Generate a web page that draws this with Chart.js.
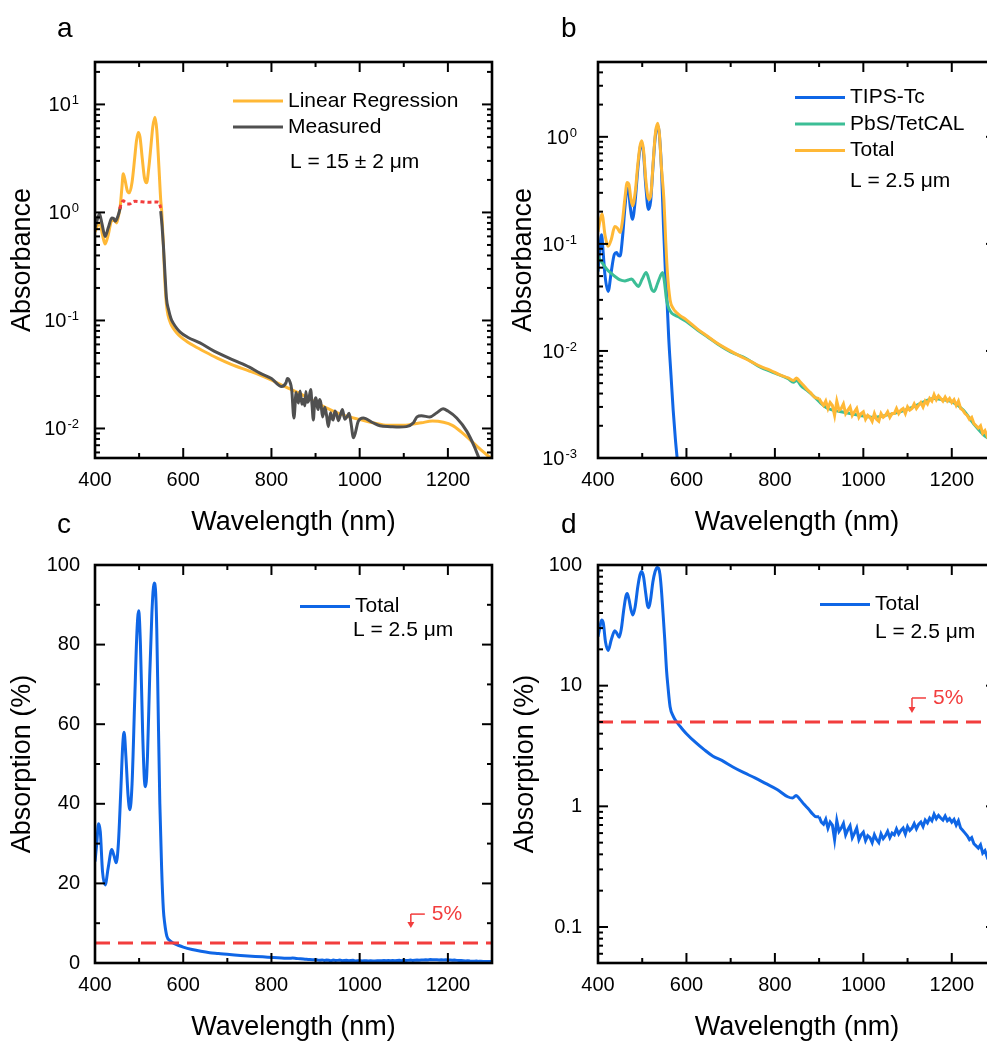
<!DOCTYPE html>
<html>
<head>
<meta charset="utf-8">
<script src="https://cdn.jsdelivr.net/npm/chart.js@4.4.1/dist/chart.umd.min.js"></script>
<style>
  html, body { margin: 0; padding: 0; width: 987px; height: 1041px; overflow: hidden; background: #fff; }
  canvas { position: absolute; }
</style>
</head>
<body>
<canvas id="panelA" width="500" height="545" style="left:0;top:0"></canvas>
<canvas id="panelB" width="510" height="545" style="left:500px;top:0"></canvas>
<canvas id="panelC" width="500" height="550" style="left:0;top:500px"></canvas>
<canvas id="panelD" width="510" height="550" style="left:500px;top:500px"></canvas>
<script>
'use strict'

// wavelength axis ticks (nm)
const wlTicks = [400, 600, 800, 1000, 1200];
const wlMinor = [500, 700, 900, 1100, 1300];

// (a) thick film: regression vs measurement
const regWl = [400, 406, 411, 417, 423, 430, 438, 444, 449, 453, 457, 461, 464, 468, 473, 478, 484, 490, 494, 498,
  502, 507, 512, 517, 522, 527, 531, 536, 540, 545, 549, 551, 555, 558, 562, 566, 571, 577, 585, 595,
  608, 625, 650, 676, 710, 750, 789, 830, 870, 903, 940, 970, 1001, 1030, 1054, 1080, 1110, 1140, 1165, 1190,
  1210, 1230, 1250, 1270, 1300];
const regAbs = [0.66, 0.76, 0.80, 0.62, 0.51, 0.62, 0.84, 0.84, 0.80, 0.92, 1.12, 1.7, 2.28, 2.0, 1.6, 1.52, 1.9, 3.2, 4.6, 5.5,
  5.0, 3.2, 2.1, 1.88, 2.6, 4.2, 6.2, 7.6, 5.8, 2.6, 1.3, 1.05, 0.5, 0.25, 0.14, 0.11, 0.095, 0.085, 0.077, 0.07,
  0.064, 0.058, 0.051, 0.045, 0.039, 0.034, 0.0294, 0.0245, 0.0205, 0.0172, 0.0145, 0.013, 0.0121, 0.0113, 0.0108, 0.0107, 0.0108, 0.0113, 0.0117, 0.0114,
  0.0107, 0.0093, 0.0079, 0.0066, 0.0052];

const measWl = [400, 404, 410, 416, 423, 430, 438, 442, 446, 450, 454, 458, 500, 549, 552, 555, 558, 562, 567, 572,
  577, 585, 593, 610, 638, 670, 714, 750, 774, 800, 823, 833, 836, 842, 846, 851, 856, 861, 865, 869,
  872, 876, 878, 881, 884, 889, 892, 895, 898, 901, 904, 906, 909, 912, 916, 921, 925, 929, 934, 937,
  940, 944, 948, 952, 955, 961, 966, 971, 976, 980, 986, 997, 1008,
  1030, 1046, 1070, 1090, 1106, 1122, 1130, 1140, 1159, 1175, 1189, 1200, 1220, 1243, 1260, 1273, 1285];
const measAbs = [0.72, 0.82, 0.97, 0.78, 0.60, 0.72, 0.89, 0.88, 0.83, 0.88, 0.98, 1.14, null, 1.03, 0.75, 0.5, 0.3, 0.16, 0.125, 0.105,
  0.095, 0.085, 0.078, 0.070, 0.062, 0.052, 0.043, 0.037, 0.0325, 0.029, 0.0245, 0.0265, 0.029, 0.027, 0.0228, 0.0125, 0.0215, 0.0172, 0.0222, 0.0168,
  0.0186, 0.0162, 0.022, 0.0175, 0.018, 0.023, 0.0165, 0.012, 0.0178, 0.0193, 0.0158, 0.015, 0.0185, 0.0172, 0.0128, 0.0157, 0.0132, 0.0104, 0.014, 0.0125,
  0.012, 0.0145, 0.0134, 0.0118, 0.0128, 0.015, 0.0122, 0.0128, 0.0138, 0.0115, 0.0082, 0.0117, 0.0125,
  0.0113, 0.0106, 0.0104, 0.0103, 0.0104, 0.0113, 0.0128, 0.0131, 0.0128, 0.014, 0.0152, 0.0145, 0.0125, 0.0094, 0.0068, 0.005, 0.0038];

// saturated part of the measurement
const satWl = [456, 460, 464, 468, 473, 479, 485, 491, 500, 510, 520, 530, 540, 545, 549];
const satAbs = [1.08, 1.22, 1.28, 1.25, 1.2, 1.2, 1.25, 1.27, 1.26, 1.25, 1.24, 1.25, 1.25, 1.24, 1.1];

// (b) 2.5 um film components
const tipsWl = [400, 404, 408, 412, 416, 423, 430, 437, 442, 446, 450, 455, 461, 466, 469, 473, 478, 484, 490, 495,
  499, 503, 508, 514, 519, 524, 529, 533, 536, 540, 544, 548, 552, 556, 560, 565, 570, 575, 580];
const tipsAbs = [0.055, 0.09, 0.122, 0.08, 0.05, 0.036, 0.055, 0.08, 0.083, 0.078, 0.077, 0.11, 0.22, 0.33, 0.32, 0.22, 0.17, 0.25, 0.5, 0.78,
  0.87, 0.7, 0.35, 0.21, 0.25, 0.5, 0.95, 1.22, 1.25, 0.9, 0.45, 0.15, 0.06, 0.03, 0.013, 0.006, 0.0028, 0.0015, 0.0009];

const pbsWl = [400, 410, 420, 430, 440, 450, 461, 468, 476, 484, 491, 500, 509, 516, 521, 527, 534, 541, 546, 550,
  555, 560, 567, 575, 585, 600, 625, 650, 668, 700, 735, 766, 800, 830, 842, 849, 860, 872, 890, 902,
  920, 950, 993, 1023, 1050, 1083, 1113, 1140, 1158, 1180, 1203, 1226, 1249, 1275, 1300];
const pbsAbs = [0.076, 0.066, 0.058, 0.053, 0.049, 0.046, 0.045, 0.046, 0.047, 0.043, 0.040, 0.047, 0.054, 0.045, 0.038, 0.036, 0.042, 0.05, 0.054, 0.045,
  0.03, 0.025, 0.0225, 0.0215, 0.0205, 0.0188, 0.0157, 0.0133, 0.0118, 0.0098, 0.0085, 0.0071, 0.0062, 0.0055, 0.0051, 0.0053, 0.0047, 0.0043, 0.0037, 0.0033,
  0.0029, 0.0027, 0.0025, 0.0024, 0.0025, 0.0027, 0.003, 0.0034, 0.0036, 0.0035, 0.0033, 0.0028, 0.0021, 0.0016, 0.0014];

const totalWl = [400, 404, 409, 416, 423, 430, 438, 444, 450, 455, 461, 466, 470, 474, 478, 484, 490, 495, 499, 503,
  508, 515, 520, 525, 530, 535, 539, 543, 549, 553, 557, 563, 570, 578, 585, 600, 625, 650, 668, 690,
  720, 745, 766, 790, 810, 830, 842, 849, 856, 864, 872, 880, 890];
const totalAbs = [0.13, 0.16, 0.19, 0.12, 0.095, 0.11, 0.145, 0.14, 0.128, 0.16, 0.27, 0.375, 0.36, 0.27, 0.227, 0.3, 0.55, 0.82, 0.92, 0.75,
  0.4, 0.259, 0.3, 0.6, 1.1, 1.34, 1.05, 0.55, 0.26, 0.11, 0.0535, 0.030, 0.025, 0.0227, 0.0215, 0.0195, 0.016, 0.0135, 0.0119, 0.0105,
  0.009, 0.008, 0.0072, 0.0066, 0.006, 0.0056, 0.0053, 0.0056, 0.0052, 0.0048, 0.0044, 0.0041, 0.0037];

// noisy NIR tail, 900-1300 nm
const tailWl = [900, 905, 910, 915, 920, 925, 930, 935, 940, 945, 950, 955, 960, 965, 970, 975, 980, 985, 990, 995,
  1000, 1005, 1010, 1015, 1020, 1025, 1030, 1035, 1040, 1045, 1050, 1055, 1060, 1065, 1070, 1075, 1080, 1085, 1090, 1095,
  1100, 1105, 1110, 1115, 1120, 1125, 1130, 1135, 1140, 1145, 1150, 1155, 1160, 1165, 1170, 1175, 1180, 1185, 1190, 1195,
  1200, 1205, 1210, 1215, 1220, 1225, 1230, 1235, 1240, 1245, 1250, 1255, 1260, 1265, 1270, 1275, 1280, 1285, 1290, 1295, 1300];
const totalTailAbs = [0.0036, 0.0033, 0.0031, 0.0034, 0.0029, 0.0033, 0.0031, 0.0025, 0.0034, 0.0028, 0.0029, 0.0032, 0.0026, 0.0028, 0.0030, 0.0025, 0.0027, 0.0029, 0.0024, 0.0026,
  0.0027, 0.0023, 0.0025, 0.0024, 0.0022, 0.0026, 0.0023, 0.0022, 0.0026, 0.0024, 0.0025, 0.0027, 0.0024, 0.0026, 0.0026, 0.0029, 0.0026, 0.0028, 0.0029, 0.0026,
  0.0030, 0.0028, 0.0029, 0.0032, 0.0029, 0.0031, 0.0033, 0.0030, 0.0034, 0.0032, 0.0036, 0.0034, 0.0039, 0.0035, 0.0038, 0.0036, 0.0034, 0.0037, 0.0034, 0.0036,
  0.0033, 0.0035, 0.0031, 0.0034, 0.0029, 0.0028, 0.0026, 0.0025, 0.0023, 0.0024, 0.0021, 0.0020, 0.0019, 0.0020, 0.0017, 0.0018, 0.0016, 0.0017, 0.0015, 0.0016, 0.0015];

// (c, d) absorption of the 2.5 um film, %
const pctWl = [400, 404, 408, 412, 417, 423, 430, 438, 443, 448, 453, 458, 463, 466, 470, 475, 479, 484, 490, 495,
  499, 503, 508, 512, 515, 519, 524, 529, 534, 537, 540, 543, 547, 551, 555, 558, 563, 570, 578, 590,
  600, 620, 640, 660, 680, 705, 730, 755, 780, 805, 829, 840, 848, 856, 866, 876, 886, 893];
const pctVal = [25.5, 30, 35, 33, 23, 19.6, 24, 28.5, 27, 25.2, 30, 42, 55, 58, 52, 42, 38.5, 45, 66, 83,
  88.5, 80, 58, 46, 44.3, 52, 72, 88, 95.5, 94, 84, 65, 40, 24, 13.4, 10, 6.7, 5.6, 5.0, 4.4,
  4.0, 3.4, 2.95, 2.6, 2.4, 2.12, 1.9, 1.72, 1.54, 1.38, 1.2, 1.17, 1.23, 1.15, 1.04, 0.95, 0.86, 0.82];
const pctTail = [0.82, 0.74, 0.71, 0.78, 0.66, 0.74, 0.70, 0.53, 0.76, 0.62, 0.66, 0.72, 0.58, 0.64, 0.69, 0.55, 0.60, 0.66, 0.53, 0.58,
  0.61, 0.52, 0.57, 0.55, 0.50, 0.58, 0.53, 0.50, 0.59, 0.54, 0.57, 0.62, 0.55, 0.60, 0.58, 0.65, 0.59, 0.63, 0.66, 0.59,
  0.68, 0.63, 0.66, 0.72, 0.65, 0.71, 0.74, 0.68, 0.77, 0.73, 0.80, 0.76, 0.86, 0.79, 0.84, 0.80, 0.77, 0.83, 0.76, 0.79,
  0.74, 0.78, 0.70, 0.76, 0.66, 0.63, 0.60, 0.57, 0.53, 0.55, 0.49, 0.47, 0.45, 0.48, 0.41, 0.43, 0.38, 0.40, 0.35, 0.37, 0.36];

// 5 % threshold
const limitWl = [400, 1300];
const limitPct = [5, 5];

const ORANGE = '#FFB836';
const GRAY = '#505050';
const BLUE = '#0F66E6';
const TEAL = '#3CBE96';
const RED = '#F23D3D';
const fontFamily = '"Liberation Sans", Arial, sans-serif';

Chart.defaults.font.family = fontFamily;
Chart.defaults.color = '#000';

function xy(wl, vals) {
  return wl.map((w, i) => ({x: w, y: vals[i]}));
}

function series(label, wl, vals, color, extra) {
  return Object.assign({
    label, data: xy(wl, vals), borderColor: color, borderWidth: 3,
    pointRadius: 0, fill: false, cubicInterpolationMode: 'monotone'
  }, extra || {});
}

// smooth visible part + noisy NIR tail drawn as a plain polyline, joined at the first tail point
function spectrum(label, wl, vals, tail, color) {
  return [
    series(label, wl.concat(tailWl.slice(0, 1)), vals.concat(tail.slice(0, 1)), color),
    series(label, tailWl, tail, color, {cubicInterpolationMode: 'default', tension: 0})
  ];
}

function logMinors(lo, hi) {
  const out = [];
  for (let e = -4; e <= 2; e++) {
    for (let k = 2; k <= 9; k++) {
      const v = k * Math.pow(10, e);
      if (v >= lo * 0.999 && v <= hi * 1.001) out.push(v);
    }
  }
  return out;
}

// frame, inward ticks, 10^n labels, legend, panel letter, threshold note
const axisFrame = {
  id: 'axisFrame',
  afterDraw(chart, args, o) {
    const {ctx, chartArea: a} = chart;
    const x = chart.scales.x, y = chart.scales.y;
    const seg = (x0, y0, x1, y1) => { ctx.beginPath(); ctx.moveTo(x0, y0); ctx.lineTo(x1, y1); ctx.stroke(); };
    ctx.save();
    ctx.strokeStyle = '#000';
    ctx.lineWidth = 2;
    const xt = (v, len) => { const p = x.getPixelForValue(v); seg(p, a.bottom, p, a.bottom - len); seg(p, a.top, p, a.top + len); };
    const yt = (v, len) => { const p = y.getPixelForValue(v); seg(a.left, p, a.left + len, p); seg(a.right, p, a.right - len, p); };
    wlTicks.forEach(v => xt(v, 10));
    wlMinor.forEach(v => xt(v, 5));
    o.yMajor.forEach(v => yt(v, 10));
    o.yMinor.forEach(v => yt(v, 5));
    ctx.lineWidth = 2.6;
    ctx.strokeRect(a.left, a.top, a.right - a.left, a.bottom - a.top);

    ctx.fillStyle = '#000';
    if (o.exps) {
      const right = a.left - o.labelGap;
      o.exps.forEach(e => {
        const p = y.getPixelForValue(Math.pow(10, e));
        const sup = String(e);
        ctx.textAlign = 'left';
        ctx.textBaseline = 'alphabetic';
        ctx.font = '13px ' + fontFamily;
        const sw = ctx.measureText(sup).width;
        ctx.fillText(sup, right - sw, p);
        ctx.font = '20px ' + fontFamily;
        const bw = ctx.measureText('10').width;
        ctx.fillText('10', right - sw - bw - 1, p + 7);
      });
    }

    const L = o.legend;
    ctx.textAlign = 'left';
    ctx.textBaseline = 'middle';
    ctx.font = '21px ' + fontFamily;
    L.rows.forEach((r, i) => {
      const ry = L.y + i * L.rowH;
      ctx.strokeStyle = r.color;
      ctx.lineWidth = 3;
      seg(L.x, ry, L.x + 50, ry);
      ctx.fillText(r.text, L.x + 55, ry);
    });
    ctx.fillText(L.note, L.x + L.noteDx, L.y + L.noteDy);

    if (o.mark) {
      const m = o.mark;
      const ax = x.getPixelForValue(m.wl);
      const ly = y.getPixelForValue(m.val);
      ctx.strokeStyle = RED;
      ctx.fillStyle = RED;
      ctx.lineWidth = 1.5;
      seg(ax + 14, ly - m.rise, ax, ly - m.rise);
      seg(ax, ly - m.rise, ax, ly - m.tip - 5);
      ctx.beginPath();
      ctx.moveTo(ax - 3.5, ly - m.tip - 6);
      ctx.lineTo(ax + 3.5, ly - m.tip - 6);
      ctx.lineTo(ax, ly - m.tip);
      ctx.closePath();
      ctx.fill();
      ctx.font = '21px ' + fontFamily;
      ctx.fillText('5%', ax + 21, ly - m.rise);
    }

    ctx.fillStyle = '#000';
    ctx.textBaseline = 'alphabetic';
    ctx.font = '28px ' + fontFamily;
    ctx.fillText(o.letter[0], o.letter[1], o.letter[2]);
    ctx.restore();
  }
};

function wavelengthAxis() {
  return {
    type: 'linear', min: 400, max: 1300,
    afterBuildTicks: s => { s.ticks = wlTicks.map(v => ({value: v})); },
    afterFit: s => { s.height = 87; },
    ticks: {callback: v => String(v), font: {size: 20}, color: '#000', padding: 10, maxRotation: 0, autoSkip: false},
    grid: {display: false, drawTicks: false},
    border: {display: false},
    title: {display: true, text: 'Wavelength (nm)', font: {size: 27}, color: '#000', padding: {top: 0, bottom: 6}}
  };
}

function valueAxis(cfg) {
  return {
    type: cfg.type, min: cfg.min, max: cfg.max,
    afterBuildTicks: s => { s.ticks = (cfg.labels || []).map(v => ({value: v})); },
    afterFit: s => { s.width = cfg.width; },
    ticks: {display: !!cfg.labels, callback: v => String(v), font: {size: 20}, color: '#000', padding: cfg.pad || 15, autoSkip: false},
    grid: {display: false, drawTicks: false},
    border: {display: false},
    title: {display: true, text: cfg.title, font: {size: 27}, color: '#000', padding: {top: cfg.titlePad}}
  };
}

function panel(id, datasets, yAxis, frame, padding) {
  return new Chart(document.getElementById(id), {
    type: 'line',
    data: {datasets},
    options: {
      responsive: false,
      animation: false,
      devicePixelRatio: 1,
      events: [],
      layout: {padding},
      plugins: {legend: {display: false}, tooltip: {enabled: false}, axisFrame: frame},
      scales: {x: wavelengthAxis(), y: yAxis}
    },
    plugins: [axisFrame]
  });
}

// a
panel('panelA', [
  series('Saturated', satWl, satAbs, RED, {borderDash: [4, 3], borderWidth: 3}),
  series('Measured', measWl, measAbs, GRAY),
  series('Linear Regression', regWl, regAbs, ORANGE)
], valueAxis({type: 'logarithmic', min: 0.00533, max: 24.7, width: 95, title: 'Absorbance', titlePad: 6}), {
  yMajor: [0.01, 0.1, 1, 10], yMinor: logMinors(0.00533, 24.7), exps: [-2, -1, 0, 1], labelGap: 16,
  legend: {x: 233, y: 101, rowH: 26, noteDx: 57, noteDy: 61, note: 'L = 15 \u00B1 2 \u03BCm',
    rows: [{text: 'Linear Regression', color: ORANGE}, {text: 'Measured', color: GRAY}]},
  letter: ['a', 57, 37]
}, {top: 62, right: 8, bottom: 0, left: 0});

// b
panel('panelB', [
  ...spectrum('Total', totalWl, totalAbs, totalTailAbs, ORANGE),
  series('PbS/TetCAL', pbsWl, pbsAbs, TEAL),
  series('TIPS-Tc', tipsWl, tipsAbs, BLUE)
], valueAxis({type: 'logarithmic', min: 0.001, max: 5.0, width: 98, title: 'Absorbance', titlePad: 7}), {
  yMajor: [0.001, 0.01, 0.1, 1], yMinor: logMinors(0.001, 5.0), exps: [-3, -2, -1, 0], labelGap: 21,
  legend: {x: 295, y: 97.5, rowH: 26.5, noteDx: 55, noteDy: 83.5, note: 'L = 2.5 \u03BCm',
    rows: [{text: 'TIPS-Tc', color: BLUE}, {text: 'PbS/TetCAL', color: TEAL}, {text: 'Total', color: ORANGE}]},
  letter: ['b', 61, 37]
}, {top: 62, right: 14, bottom: 0, left: 0});

// c
panel('panelC', [
  series('5%', limitWl, limitPct, RED, {borderDash: [15, 8], borderWidth: 3}),
  ...spectrum('Total', pctWl, pctVal, pctTail, BLUE)
], valueAxis({type: 'linear', min: 0, max: 100, width: 95, labels: [0, 20, 40, 60, 80, 100], pad: 15, title: 'Absorption (%)', titlePad: 6}), {
  yMajor: [0, 20, 40, 60, 80, 100], yMinor: [10, 30, 50, 70, 90],
  legend: {x: 300, y: 106.5, rowH: 26, noteDx: 53, noteDy: 24, note: 'L = 2.5 \u03BCm',
    rows: [{text: 'Total', color: BLUE}]},
  mark: {wl: 1116, val: 5, rise: 29, tip: 15},
  letter: ['c', 57, 33]
}, {top: 65, right: 8, bottom: 0, left: 0});

// d
panel('panelD', [
  series('5%', limitWl, limitPct, RED, {borderDash: [15, 8], borderWidth: 3}),
  ...spectrum('Total', pctWl, pctVal, pctTail, BLUE)
], valueAxis({type: 'logarithmic', min: 0.0503, max: 100, width: 98, labels: [0.1, 1, 10, 100], pad: 16, title: 'Absorption (%)', titlePad: 9}), {
  yMajor: [0.1, 1, 10, 100], yMinor: logMinors(0.0503, 100),
  legend: {x: 320, y: 104.5, rowH: 26, noteDx: 55, noteDy: 27.5, note: 'L = 2.5 \u03BCm',
    rows: [{text: 'Total', color: BLUE}]},
  mark: {wl: 1110, val: 5, rise: 24, tip: 9},
  letter: ['d', 61, 33]
}, {top: 65, right: 14, bottom: 0, left: 0});
</script>
</body>
</html>
